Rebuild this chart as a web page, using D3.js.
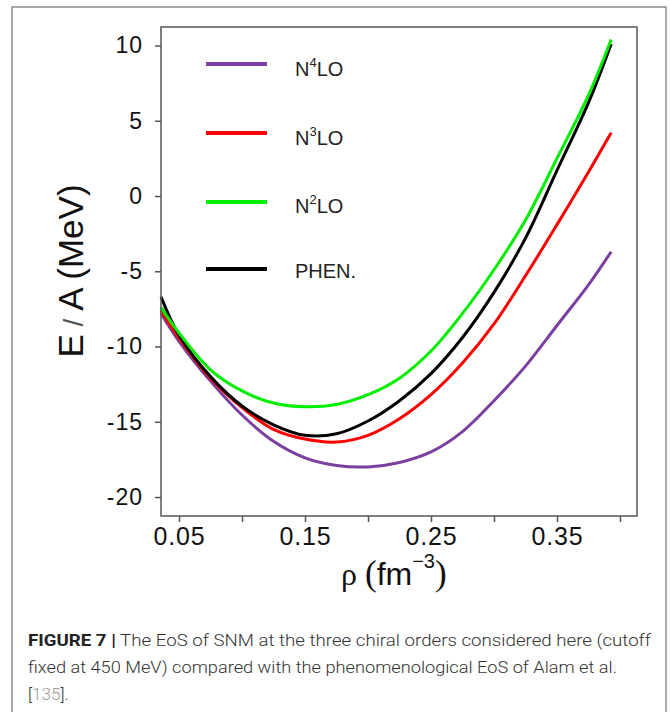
<!DOCTYPE html>
<html><head><meta charset="utf-8">
<script src="https://cdn.jsdelivr.net/npm/d3@7"></script>
<style>body{margin:0;background:#fff}svg{display:block}</style>
</head><body>
<script>
// ---- data ----
const rho  = [0.0357, 0.05, 0.075, 0.10, 0.125, 0.15, 0.175, 0.20, 0.225, 0.25, 0.275, 0.30, 0.325, 0.35, 0.375, 0.393];
const n4lo = [-7.8, -9.65, -12.3, -14.55, -16.3, -17.4, -17.9, -18.0, -17.7, -17.0, -15.65, -13.6, -11.3, -8.6, -5.9, -3.7];
const n3lo = [-7.6, -9.45, -12.1, -14.05, -15.5, -16.15, -16.35, -15.9, -14.8, -13.2, -11.1, -8.5, -5.3, -1.9, 1.6, 4.2];
const n2lo = [-7.4, -9.1, -11.55, -12.95, -13.75, -14.0, -13.85, -13.2, -12.1, -10.3, -7.8, -4.9, -1.6, 2.5, 6.7, 10.4];
const phen = [-6.7, -9.25, -12.0, -13.95, -15.2, -15.9, -15.8, -14.95, -13.6, -11.8, -9.4, -6.4, -2.8, 1.7, 6.2, 10.1];
const seriesNames = ["N4LO", "N3LO", "N2LO", "PHEN."];
const seriesColors = ["#7b3f9e", "#ff0000", "#00ee00", "#000000"];
const yTicks = [-20, -15, -10, -5, 0, 5, 10];
const xTicks = [0.05, 0.10, 0.15, 0.20, 0.25, 0.30, 0.35, 0.40];
const xTickLabels = ["0.05", "", "0.15", "", "0.25", "", "0.35", ""];
const captionLines = [
  ["FIGURE 7 |", " The EoS of SNM at the three chiral orders considered here (cutoff"],
  ["", "fixed at 450 MeV) compared with the phenomenological EoS of Alam et al."],
];

const W = 670, H = 712;
const svg = d3.select("body").append("svg").attr("width", W).attr("height", H);

// outer figure frame
svg.append("rect").attr("x", 12).attr("y", 7).attr("width", 654).attr("height", 720)
  .attr("fill", "none").attr("stroke", "#8c8c8c").attr("stroke-width", 1.5);

const x = d3.scaleLinear().domain([0.0357, 0.4135]).range([161, 637]);
const y = d3.scaleLinear().domain([-21.26, 11.23]).range([516, 27]);

const series = [n4lo, n3lo, n2lo, phen];

// curves
const line = d3.line().x(d => x(d[0])).y(d => y(d[1])).curve(d3.curveCatmullRom.alpha(0.5));
const order = [0, 1, 3, 2]; // green drawn over black like the reference
order.forEach(i => {
  const pts = rho.map((r, k) => [r, series[i][k]]);
  svg.append("path").attr("d", line(pts)).attr("fill", "none")
    .attr("stroke", seriesColors[i]).attr("stroke-width", 3).attr("stroke-linejoin", "round");
});

// plot box
svg.append("rect").attr("x", 161).attr("y", 27).attr("width", 476).attr("height", 489)
  .attr("fill", "none").attr("stroke", "#555").attr("stroke-width", 1.5);

// axes
const yAxis = svg.append("g").attr("transform", "translate(161,0)")
  .call(d3.axisLeft(y).tickValues(yTicks).tickSize(6).tickPadding(12).tickFormat(d3.format("d")));
const xAxis = svg.append("g").attr("transform", "translate(0,516)")
  .call(d3.axisBottom(x).tickValues(xTicks).tickSize(6).tickPadding(5).tickFormat((d, i) => xTickLabels[i]));
[yAxis, xAxis].forEach(g => {
  g.select(".domain").remove();
  g.selectAll(".tick line").attr("stroke", "#555").attr("stroke-width", 1.5);
  g.selectAll("text").attr("fill", "#111").attr("font-family", "Liberation Sans, Arial, sans-serif");
});
yAxis.selectAll("text").attr("font-size", 23).attr("letter-spacing", 1).text(d => d < 0 ? "-" + Math.abs(d) : d);
xAxis.selectAll("text").attr("font-size", 25).attr("letter-spacing", 0.8);

// legend
const legY = [64, 133, 202, 269];
const legBase = [76, 145, 213, 278];
const sup = ["4", "3", "2", null];
seriesNames.forEach((nm, i) => {
  svg.append("line").attr("x1", 206).attr("x2", 267).attr("y1", legY[i]).attr("y2", legY[i])
    .attr("stroke", seriesColors[i]).attr("stroke-width", 4);
  const t = svg.append("text").attr("x", 295).attr("y", legBase[i])
    .attr("font-family", "Liberation Sans, Arial, sans-serif").attr("font-size", 20).attr("fill", "#222");
  if (sup[i]) {
    t.append("tspan").text("N");
    t.append("tspan").attr("font-size", 13).attr("dy", -9).text(sup[i]);
    t.append("tspan").attr("dy", 9).text("LO");
  } else {
    t.text(nm);
  }
});

// y title
const yt = svg.append("text").attr("transform", "translate(83,271) rotate(-90)")
  .attr("text-anchor", "middle").attr("font-family", "Liberation Sans, Arial, sans-serif")
  .attr("font-size", 35).attr("fill", "#111");
yt.append("tspan").text("E");
yt.append("tspan").attr("font-weight", 300).attr("fill", "#555").attr("font-size", 28).text(" / ");
yt.append("tspan").text("A (MeV)");

// x title
const xt = svg.append("text").attr("x", 341).attr("y", 585).attr("fill", "#111");
xt.append("tspan").attr("font-family", "Liberation Serif, Times New Roman, serif").attr("font-size", 32).text("ρ ");
xt.append("tspan").attr("font-family", "Liberation Serif, Times New Roman, serif").attr("font-size", 35).text("(");
xt.append("tspan").attr("font-family", "Liberation Sans, Arial, sans-serif").attr("font-size", 32).text("fm");
xt.append("tspan").attr("font-family", "Liberation Sans, Arial, sans-serif").attr("font-size", 20).attr("dy", -17).text("−3");
xt.append("tspan").attr("font-family", "Liberation Serif, Times New Roman, serif").attr("font-size", 35).attr("dy", 17).text(")");

// caption
const capBase = [646, 673];
const capEnd = [651, 617];
captionLines.forEach((ln, i) => {
  const t = svg.append("text").attr("x", 28).attr("y", capBase[i])
    .attr("font-family", "Roboto, Liberation Sans, Arial, sans-serif").attr("font-weight", 300)
    .attr("font-size", 17).attr("fill", "#333")
    .attr("textLength", capEnd[i] - 28).attr("lengthAdjust", "spacingAndGlyphs");
  if (ln[0]) t.append("tspan").attr("font-weight", "bold").attr("fill", "#222").text(ln[0]);
  t.append("tspan").text(ln[1]);
});
const t3 = svg.append("text").attr("x", 28).attr("y", 700)
  .attr("font-family", "Roboto, Liberation Sans, Arial, sans-serif").attr("font-weight", 300)
  .attr("font-size", 17).attr("fill", "#333");
t3.append("tspan").text("[");
t3.append("tspan").attr("fill", "#9a9a9a").text("135");
t3.append("tspan").text("].");
</script>
</body></html>
